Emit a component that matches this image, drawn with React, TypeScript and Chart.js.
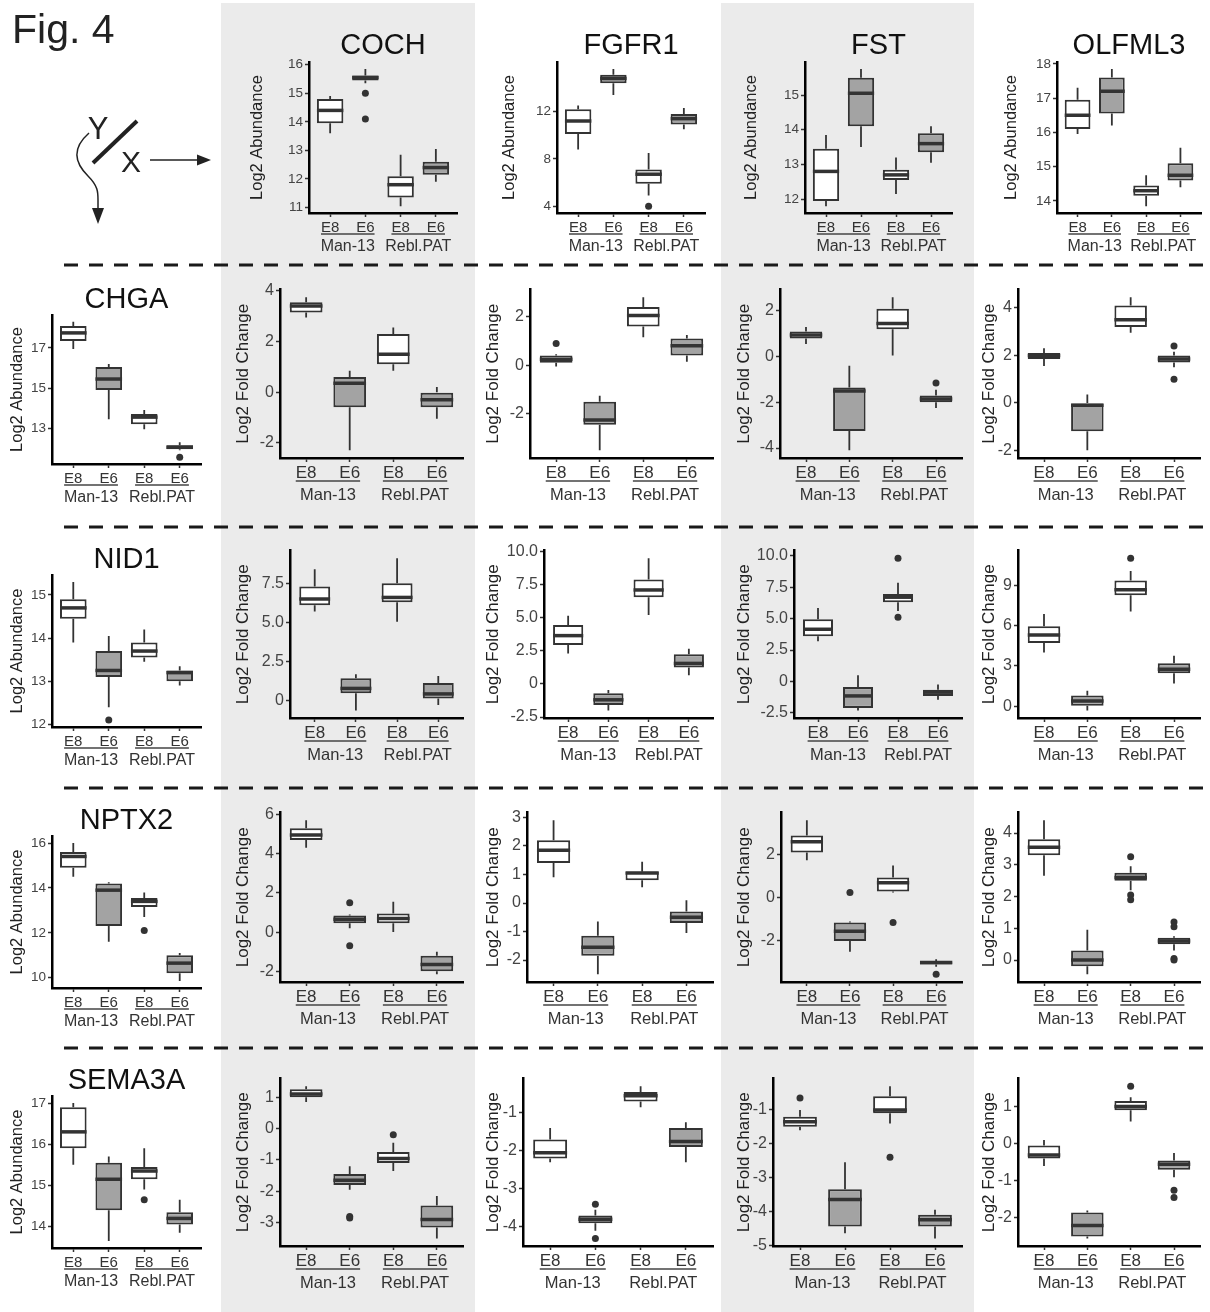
import React, { useEffect, useRef } from 'react';
import { Chart, registerables } from 'chart.js';

Chart.register(...registerables);

// ---------------- DATA ----------------
const categories = ['E8', 'E6', 'E8', 'E6'];
const groups = ['Man-13', 'Rebl.PAT'];

// box stats: [lower whisker, q1, median, q3, upper whisker]
// Top row (Log2 Abundance)
const COCH_box = [[13.6, 13.95, 14.4, 14.8, 14.9], [15.35, 15.45, 15.55, 15.62, 15.85], [11.05, 11.35, 11.8, 12.1, 12.85], [11.9, 12.15, 12.4, 12.6, 13.05]];
const COCH_out = [[], [15.0, 14.1], [], []];
const COCH_ticks = ['11', '12', '13', '14', '15', '16'];

const FGFR1_box = [[8.8, 10.1, 11.2, 12.2, 12.5], [13.4, 14.4, 14.8, 15.1, 15.6], [4.9, 5.9, 6.7, 7.1, 8.5], [10.5, 10.9, 11.4, 11.8, 12.3]];
const FGFR1_out = [[], [], [4.0], []];
const FGFR1_ticks = ['4', '8', '12'];

const FST_box = [[11.8, 11.95, 12.8, 13.45, 13.85], [13.5, 14.1, 15.05, 15.5, 15.75], [12.15, 12.55, 12.7, 12.85, 13.2], [13.05, 13.35, 13.6, 13.9, 14.1]];
const FST_out = [[], [], [], []];
const FST_ticks = ['12', '13', '14', '15'];

const OLFML3_box = [[15.95, 16.1, 16.5, 16.95, 17.3], [16.2, 16.55, 17.2, 17.6, 17.85], [13.85, 14.15, 14.3, 14.45, 14.75], [14.4, 14.6, 14.75, 15.1, 15.55]];
const OLFML3_out = [[], [], [], []];
const OLFML3_ticks = ['14', '15', '16', '17', '18'];

// Left column (Log2 Abundance)
const CHGA_box = [[16.95, 17.35, 17.75, 18.1, 18.3], [13.45, 14.9, 15.45, 16.05, 16.2], [12.95, 13.2, 13.55, 13.7, 13.9], [11.9, 11.95, 12.05, 12.15, 12.3]];
const CHGA_out = [[], [], [], [11.55]];
const CHGA_ticks = ['13', '15', '17'];

const NID1_box = [[13.9, 14.45, 14.7, 14.9, 15.3], [12.4, 13.1, 13.25, 13.7, 14.05], [13.45, 13.55, 13.7, 13.9, 14.2], [12.9, 13.0, 13.2, 13.25, 13.35]];
const NID1_out = [[], [12.1], [], []];
const NID1_ticks = ['12', '13', '14', '15'];

const NPTX2_box = [[14.5, 14.9, 15.4, 15.6, 16.0], [11.6, 12.3, 13.9, 14.2, 14.25], [12.7, 13.15, 13.4, 13.55, 13.8], [9.85, 10.2, 10.65, 11.0, 11.1]];
const NPTX2_out = [[], [], [12.1], []];
const NPTX2_ticks = ['10', '12', '14', '16'];

const SEMA3A_box = [[15.5, 15.9, 16.3, 16.9, 17.0], [13.65, 14.4, 15.15, 15.55, 15.7], [14.9, 15.15, 15.35, 15.45, 15.9], [13.85, 14.05, 14.2, 14.35, 14.65]];
const SEMA3A_out = [[], [], [14.65], []];
const SEMA3A_ticks = ['14', '15', '16', '17'];

// Grid (Log2 Fold Change), row CHGA
const CHGA_COCH_box = [[2.95, 3.15, 3.4, 3.55, 3.75], [-2.3, -0.6, 0.35, 0.6, 0.85], [0.85, 1.1, 1.5, 2.3, 2.55], [-1.05, -0.6, -0.3, 0.0, 0.2]];
const CHGA_COCH_out = [[], [], [], []];
const CHGA_COCH_ticks = ['-2', '0', '2', '4'];

const CHGA_FGFR1_box = [[-0.05, 0.1, 0.25, 0.4, 0.45], [-3.5, -2.45, -2.25, -1.5, -1.25], [1.15, 1.6, 2.05, 2.4, 2.8], [0.15, 0.4, 0.8, 1.1, 1.25]];
const CHGA_FGFR1_out = [[0.9], [], [], []];
const CHGA_FGFR1_ticks = ['-2', '0', '2'];

const CHGA_FST_box = [[0.55, 0.8, 0.95, 1.1, 1.3], [-4.1, -3.25, -1.5, -1.35, -0.4], [0.05, 1.2, 1.45, 2.1, 2.6], [-2.25, -2.0, -1.85, -1.7, -1.45]];
const CHGA_FST_out = [[], [], [], [-1.15]];
const CHGA_FST_ticks = ['-4', '-2', '0', '2'];

const CHGA_OLFML3_box = [[1.55, 1.85, 2.0, 2.1, 2.3], [-2.0, -1.2, -0.1, 0.0, 0.35], [2.95, 3.2, 3.5, 4.1, 4.45], [1.5, 1.7, 1.85, 2.0, 2.15]];
const CHGA_OLFML3_out = [[], [], [], [2.4, 1.0]];
const CHGA_OLFML3_ticks = ['-2', '0', '2', '4'];

// row NID1
const NID1_COCH_box = [[5.7, 6.1, 6.5, 7.3, 8.4], [-0.6, 0.5, 0.8, 1.45, 1.7], [5.05, 6.3, 6.6, 7.5, 9.1], [-0.25, 0.15, 0.45, 1.15, 1.6]];
const NID1_COCH_out = [[], [], [], []];
const NID1_COCH_ticks = ['0', '2.5', '5.0', '7.5'];

const NID1_FGFR1_box = [[2.3, 2.95, 3.65, 4.45, 5.15], [-2.0, -1.6, -1.2, -0.7, -0.45], [5.2, 6.55, 7.1, 7.9, 9.5], [0.65, 1.25, 1.55, 2.25, 2.65]];
const NID1_FGFR1_out = [[], [], [], []];
const NID1_FGFR1_ticks = ['-2.5', '0', '2.5', '5.0', '7.5', '10.0'];

const NID1_FST_box = [[3.2, 3.6, 4.15, 4.95, 5.85], [-2.3, -2.1, -1.15, -0.45, 0.5], [5.6, 6.3, 6.7, 6.95, 7.85], [-1.45, -1.15, -0.85, -0.65, -0.25]];
const NID1_FST_out = [[], [], [9.8, 5.1], []];
const NID1_FST_ticks = ['-2.5', '0', '2.5', '5.0', '7.5', '10.0'];

const NID1_OLFML3_box = [[4.0, 4.7, 5.3, 5.95, 6.85], [-0.3, 0.05, 0.4, 0.8, 1.15], [7.05, 8.25, 8.65, 9.35, 10.05], [1.7, 2.45, 2.75, 3.2, 3.75]];
const NID1_OLFML3_out = [[], [], [11.0], []];
const NID1_OLFML3_ticks = ['0', '3', '6', '9'];

// row NPTX2
const NPTX2_COCH_box = [[4.3, 4.7, 4.95, 5.3, 5.7], [0.2, 0.45, 0.65, 0.85, 0.9], [0.0, 0.45, 0.7, 0.95, 1.55], [-2.15, -2.0, -1.65, -1.2, -1.0]];
const NPTX2_COCH_out = [[], [1.5, -0.7], [], []];
const NPTX2_COCH_ticks = ['-2', '0', '2', '4', '6'];

const NPTX2_FGFR1_box = [[0.9, 1.4, 1.85, 2.2, 2.9], [-2.5, -1.85, -1.55, -1.15, -0.65], [0.55, 0.8, 1.05, 1.1, 1.45], [-1.05, -0.7, -0.5, -0.3, 0.1]];
const NPTX2_FGFR1_out = [[], [], [], []];
const NPTX2_FGFR1_ticks = ['-2', '-1', '0', '1', '2', '3'];

const NPTX2_FST_box = [[1.75, 2.1, 2.6, 2.9, 3.6], [-2.5, -2.0, -1.55, -1.15, -1.1], [0.25, 0.3, 0.7, 0.95, 1.5], [-3.2, -3.1, -3.0, -2.95, -2.85]];
const NPTX2_FST_out = [[], [0.25], [-1.15], [-3.55]];
const NPTX2_FST_ticks = ['-2', '0', '2'];

const NPTX2_OLFML3_box = [[2.65, 3.3, 3.55, 3.8, 4.4], [-0.45, -0.2, 0.0, 0.3, 0.95], [2.2, 2.5, 2.6, 2.75, 2.95], [0.3, 0.5, 0.6, 0.7, 0.75]];
const NPTX2_OLFML3_out = [[], [], [3.25, 2.05, 1.9], [1.2, 1.05, 0.05, 0.0]];
const NPTX2_OLFML3_ticks = ['0', '1', '2', '3', '4'];

// row SEMA3A
const SEMA3A_COCH_box = [[0.85, 1.0, 1.1, 1.25, 1.35], [-1.95, -1.8, -1.65, -1.45, -1.2], [-1.35, -1.1, -0.95, -0.75, -0.45], [-3.5, -3.15, -2.9, -2.45, -2.15]];
const SEMA3A_COCH_out = [[], [-2.8, -2.85], [-0.2], []];
const SEMA3A_COCH_ticks = ['-3', '-2', '-1', '0', '1'];

const SEMA3A_FGFR1_box = [[-2.3, -2.2, -2.05, -1.7, -1.4], [-4.1, -3.9, -3.8, -3.7, -3.55], [-0.85, -0.7, -0.55, -0.45, -0.3], [-2.3, -1.9, -1.75, -1.4, -1.25]];
const SEMA3A_FGFR1_out = [[], [-3.4, -4.3], [], []];
const SEMA3A_FGFR1_ticks = ['-4', '-3', '-2', '-1'];

const SEMA3A_FST_box = [[-1.6, -1.5, -1.35, -1.2, -1.0], [-4.65, -4.45, -3.65, -3.35, -2.55], [-1.4, -1.1, -1.0, -0.6, -0.3], [-4.8, -4.45, -4.25, -4.1, -3.95]];
const SEMA3A_FST_out = [[-0.65], [], [-2.4], []];
const SEMA3A_FST_ticks = ['-5', '-4', '-3', '-2', '-1'];

const SEMA3A_OLFML3_box = [[-0.6, -0.4, -0.3, -0.05, 0.1], [-2.55, -2.5, -2.2, -1.85, -1.8], [0.6, 0.9, 1.0, 1.15, 1.25], [-0.9, -0.7, -0.55, -0.45, -0.25]];
const SEMA3A_OLFML3_out = [[], [], [1.55], [-1.25, -1.45]];
const SEMA3A_OLFML3_ticks = ['-2', '-1', '0', '1'];

const topGenes = ['COCH', 'FGFR1', 'FST', 'OLFML3'];
const leftGenes = ['CHGA', 'NID1', 'NPTX2', 'SEMA3A'];

// ---------------- STYLE / LAYOUT ----------------
const FAMILY = "'Liberation Sans', Arial, Helvetica, sans-serif";
const WHITE = '#ffffff';
const GRAY = '#a3a3a3';
const DEFAULT_FILLS = [WHITE, GRAY, WHITE, GRAY];

type Kind = 'small' | 'grid';
type Panel = {
  key: string;
  box: number[][];
  out: number[][];
  ticks: string[];
  yTitle: string;
  axisX: number;
  right: number;
  top: number;
  bottom: number;
  titleX: number;
  kind: Kind;
  fills?: string[];
};

const KIND = {
  small: { yTick: 13.5, xTick: 15, group: 16, title: 16.5, lineOff: 21, groupOff: 34, xPad: 1.5 },
  grid: { yTick: 16, xTick: 17, group: 16.5, title: 17, lineOff: 23, groupOff: 37, xPad: 1 },
};

const TOP_Y = [62, 213];
const topLayout = [
  { axisX: 309, right: 457, titleX: 258 },
  { axisX: 557, right: 705, titleX: 510 },
  { axisX: 805, right: 952, titleX: 752 },
  { axisX: 1057, right: 1201, titleX: 1012 },
];
const leftRows = [[315, 464], [575, 727], [836, 988], [1096, 1248]];
const gridRows = [[288, 458], [549, 718], [811, 982], [1077, 1246]];
const gridAxisX = [
  [280, 530, 780, 1018],
  [290, 544, 794, 1018],
  [280, 527, 781, 1018],
  [280, 523, 773, 1018],
];
const gridRight = [463, 713, 962, 1200];
const gridTitleX = [243, 493, 744, 989];

const topData = [
  [COCH_box, COCH_out, COCH_ticks],
  [FGFR1_box, FGFR1_out, FGFR1_ticks],
  [FST_box, FST_out, FST_ticks],
  [OLFML3_box, OLFML3_out, OLFML3_ticks],
] as any[];
const leftData = [
  [CHGA_box, CHGA_out, CHGA_ticks],
  [NID1_box, NID1_out, NID1_ticks],
  [NPTX2_box, NPTX2_out, NPTX2_ticks],
  [SEMA3A_box, SEMA3A_out, SEMA3A_ticks],
] as any[];
const gridData = [
  [[CHGA_COCH_box, CHGA_COCH_out, CHGA_COCH_ticks], [CHGA_FGFR1_box, CHGA_FGFR1_out, CHGA_FGFR1_ticks], [CHGA_FST_box, CHGA_FST_out, CHGA_FST_ticks], [CHGA_OLFML3_box, CHGA_OLFML3_out, CHGA_OLFML3_ticks]],
  [[NID1_COCH_box, NID1_COCH_out, NID1_COCH_ticks], [NID1_FGFR1_box, NID1_FGFR1_out, NID1_FGFR1_ticks], [NID1_FST_box, NID1_FST_out, NID1_FST_ticks], [NID1_OLFML3_box, NID1_OLFML3_out, NID1_OLFML3_ticks]],
  [[NPTX2_COCH_box, NPTX2_COCH_out, NPTX2_COCH_ticks], [NPTX2_FGFR1_box, NPTX2_FGFR1_out, NPTX2_FGFR1_ticks], [NPTX2_FST_box, NPTX2_FST_out, NPTX2_FST_ticks], [NPTX2_OLFML3_box, NPTX2_OLFML3_out, NPTX2_OLFML3_ticks]],
  [[SEMA3A_COCH_box, SEMA3A_COCH_out, SEMA3A_COCH_ticks], [SEMA3A_FGFR1_box, SEMA3A_FGFR1_out, SEMA3A_FGFR1_ticks], [SEMA3A_FST_box, SEMA3A_FST_out, SEMA3A_FST_ticks], [SEMA3A_OLFML3_box, SEMA3A_OLFML3_out, SEMA3A_OLFML3_ticks]],
] as any[];

const panels: Panel[] = [];
topData.forEach((d: any, i: number) => {
  panels.push({ key: 'top' + i, box: d[0], out: d[1], ticks: d[2], yTitle: 'Log2 Abundance', ...topLayout[i], top: TOP_Y[0], bottom: TOP_Y[1], kind: 'small' });
});
leftData.forEach((d: any, i: number) => {
  panels.push({ key: 'left' + i, box: d[0], out: d[1], ticks: d[2], yTitle: 'Log2 Abundance', axisX: 52, right: 201, titleX: 18, top: leftRows[i][0], bottom: leftRows[i][1], kind: 'small' });
});
gridData.forEach((row: any, r: number) => {
  row.forEach((d: any, c: number) => {
    panels.push({
      key: `g${r}${c}`, box: d[0], out: d[1], ticks: d[2], yTitle: 'Log2 Fold Change',
      axisX: gridAxisX[r][c], right: gridRight[c], titleX: gridTitleX[c], top: gridRows[r][0], bottom: gridRows[r][1], kind: 'grid',
      fills: r === 2 && c === 3 ? [WHITE, GRAY, GRAY, GRAY] : undefined,
    });
  });
});

function geom(p: Panel) {
  const k = KIND[p.kind];
  const cx0 = Math.round(p.titleX - 0.6 * k.title);
  const cx1 = p.right + 10;
  const cy0 = p.top - 10;
  const cy1 = p.bottom + 50;
  return { cx0, cx1, cy0, cy1, w: cx1 - cx0, h: cy1 - cy0 };
}

function yRange(box: number[][], out: number[][]) {
  const vals = box.flatMap((b) => [b[0], b[4]]).concat(out.flat());
  const lo = Math.min(...vals);
  const hi = Math.max(...vals);
  const r = hi - lo;
  return [lo - 0.05 * r, hi + 0.05 * r];
}

function makeConfig(p: Panel): any {
  const k = KIND[p.kind];
  const g = geom(p);
  const [ymin, ymax] = yRange(p.box, p.out);
  const tickVals = p.ticks.map((t) => parseFloat(t));
  const fills = p.fills || DEFAULT_FILLS;
  const outPts = p.out.flatMap((arr, i) => arr.map((v) => ({ x: i, y: v })));

  const boxPlugin = {
    id: 'boxExtras',
    beforeDatasetsDraw(chart: any) {
      const { ctx } = chart;
      const x = chart.scales.x;
      const y = chart.scales.y;
      ctx.save();
      ctx.strokeStyle = '#333';
      ctx.lineWidth = 1.8;
      p.box.forEach((b, i) => {
        const px = x.getPixelForValue(i);
        ctx.beginPath();
        ctx.moveTo(px, y.getPixelForValue(b[0]));
        ctx.lineTo(px, y.getPixelForValue(b[1]));
        ctx.moveTo(px, y.getPixelForValue(b[3]));
        ctx.lineTo(px, y.getPixelForValue(b[4]));
        ctx.stroke();
      });
      ctx.restore();
    },
    afterDatasetsDraw(chart: any) {
      const { ctx } = chart;
      const y = chart.scales.y;
      const meta = chart.getDatasetMeta(0);
      ctx.save();
      ctx.strokeStyle = '#333';
      ctx.lineWidth = 3.5;
      p.box.forEach((b, i) => {
        const el: any = meta.data[i];
        const half = el.width / 2;
        const py = y.getPixelForValue(b[2]);
        ctx.beginPath();
        ctx.moveTo(el.x - half, py);
        ctx.lineTo(el.x + half, py);
        ctx.stroke();
      });
      ctx.restore();
    },
    afterDraw(chart: any) {
      const { ctx } = chart;
      const x = chart.scales.x;
      const base = chart.chartArea.bottom;
      ctx.save();
      ctx.font = `${k.xTick}px ${FAMILY}`;
      const hw = ctx.measureText('E8').width / 2;
      ctx.strokeStyle = '#444';
      ctx.lineWidth = 1.5;
      ctx.fillStyle = '#333';
      ctx.textAlign = 'center';
      ctx.textBaseline = 'middle';
      groups.forEach((gname, gi) => {
        const a = x.getPixelForValue(gi * 2);
        const b = x.getPixelForValue(gi * 2 + 1);
        ctx.beginPath();
        ctx.moveTo(a - hw, base + k.lineOff);
        ctx.lineTo(b + hw, base + k.lineOff);
        ctx.stroke();
        ctx.font = `${k.group}px ${FAMILY}`;
        ctx.fillText(gname, (a + b) / 2, base + k.groupOff);
      });
      ctx.restore();
    },
  };

  return {
    type: 'bar',
    data: {
      datasets: [
        {
          type: 'bar',
          data: p.box.map((b, i) => ({ x: i, y: [b[1], b[3]] })),
          backgroundColor: fills,
          borderColor: '#333',
          borderWidth: 2,
          borderSkipped: false,
          barPercentage: 0.75,
          categoryPercentage: 1,
          clip: false,
        },
        {
          type: 'scatter',
          data: outPts,
          pointRadius: 3.5,
          pointBackgroundColor: '#333',
          pointBorderWidth: 0,
          clip: false,
        },
      ],
    },
    options: {
      animation: false,
      responsive: false,
      devicePixelRatio: 1,
      events: [],
      layout: { padding: { left: 0, top: p.top - g.cy0, right: g.cx1 - p.right, bottom: 0 } },
      plugins: { legend: { display: false }, tooltip: { enabled: false }, title: { display: false } },
      scales: {
        x: {
          type: 'linear',
          min: -0.6,
          max: 3.6,
          offset: false,
          bounds: 'data',
          afterBuildTicks: (s: any) => {
            s.ticks = [0, 1, 2, 3].map((v) => ({ value: v }));
          },
          afterFit: (s: any) => {
            s.height = g.cy1 - p.bottom;
          },
          ticks: {
            callback: (v: any) => categories[v],
            font: { family: FAMILY, size: k.xTick },
            color: '#333',
            padding: k.xPad,
            maxRotation: 0,
            minRotation: 0,
            autoSkip: false,
          },
          grid: { display: true, drawOnChartArea: false, drawTicks: true, tickLength: 4, tickColor: '#333', tickWidth: 1.5, offset: false },
          border: { display: true, color: '#000', width: 2.5 },
        },
        y: {
          type: 'linear',
          min: ymin,
          max: ymax,
          bounds: 'data',
          beginAtZero: false,
          afterBuildTicks: (s: any) => {
            s.ticks = tickVals.map((v) => ({ value: v }));
          },
          afterFit: (s: any) => {
            s.width = p.axisX - g.cx0;
          },
          ticks: {
            callback: (v: any) => p.ticks[tickVals.indexOf(v)] ?? '',
            font: { family: FAMILY, size: k.yTick },
            color: '#444',
            padding: 2,
            autoSkip: false,
          },
          grid: { display: true, drawOnChartArea: false, drawTicks: true, tickLength: 4, tickColor: '#333', tickWidth: 1.5 },
          border: { display: true, color: '#000', width: 2.5 },
          title: { display: true, text: p.yTitle, font: { family: FAMILY, size: k.title }, color: '#222', padding: 0 },
        },
      },
    },
    plugins: [boxPlugin],
  };
}

function BoxPanel({ p }: { p: Panel }) {
  const ref = useRef<HTMLCanvasElement>(null);
  const g = geom(p);
  useEffect(() => {
    const chart = new Chart(ref.current as HTMLCanvasElement, makeConfig(p));
    return () => chart.destroy();
  }, []);
  return (
    <canvas
      ref={ref}
      width={g.w}
      height={g.h}
      style={{ position: 'absolute', left: g.cx0, top: g.cy0, width: g.w, height: g.h }}
    />
  );
}

const dashYs = [265, 527, 788, 1048];

export default function App() {
  return (
    <div style={{ position: 'absolute', left: 0, top: 0, width: 1210, height: 1312, background: '#fff', overflow: 'hidden' }}>
      <div style={{ position: 'absolute', left: 221, top: 3, width: 254, height: 1309, background: '#ebebeb' }} />
      <div style={{ position: 'absolute', left: 721, top: 3, width: 253, height: 1309, background: '#ebebeb' }} />
      {panels.map((p) => (
        <BoxPanel key={p.key} p={p} />
      ))}
      <svg width={1210} height={1312} style={{ position: 'absolute', left: 0, top: 0, pointerEvents: 'none' }}>
        <text x={12} y={43} fontSize={41} fontFamily={FAMILY} fill="#222">Fig. 4</text>
        {/* Y / X legend icon */}
        <text x={98} y={139} fontSize={31} fontFamily={FAMILY} fill="#222" textAnchor="middle">Y</text>
        <text x={131} y={172} fontSize={30} fontFamily={FAMILY} fill="#222" textAnchor="middle">X</text>
        <line x1={93} y1={163} x2={137} y2={121} stroke="#222" strokeWidth={4} />
        <line x1={150} y1={160} x2={199} y2={160} stroke="#222" strokeWidth={1.5} />
        <polygon points="197,154.5 211,160 197,165.5" fill="#222" />
        <path d="M 89 133 C 72 148, 74 162, 88 176 C 98 186, 98 192, 98 200 L 98 210" stroke="#222" strokeWidth={1.5} fill="none" />
        <polygon points="92,208 104,208 98,224" fill="#222" />
        {topGenes.map((gname, i) => (
          <text key={gname} x={(topLayout[i].axisX + topLayout[i].right) / 2} y={44} fontSize={29} fontFamily={FAMILY} fill="#111" textAnchor="middle" dominantBaseline="central">
            {gname}
          </text>
        ))}
        {leftGenes.map((gname, i) => (
          <text key={gname} x={126.5} y={leftRows[i][0] - 17} fontSize={29} fontFamily={FAMILY} fill="#111" textAnchor="middle" dominantBaseline="central">
            {gname}
          </text>
        ))}
        {dashYs.map((y) => (
          <line key={y} x1={64} y1={y} x2={1210} y2={y} stroke="#1a1a1a" strokeWidth={3} strokeDasharray="14 11" />
        ))}
      </svg>
    </div>
  );
}
